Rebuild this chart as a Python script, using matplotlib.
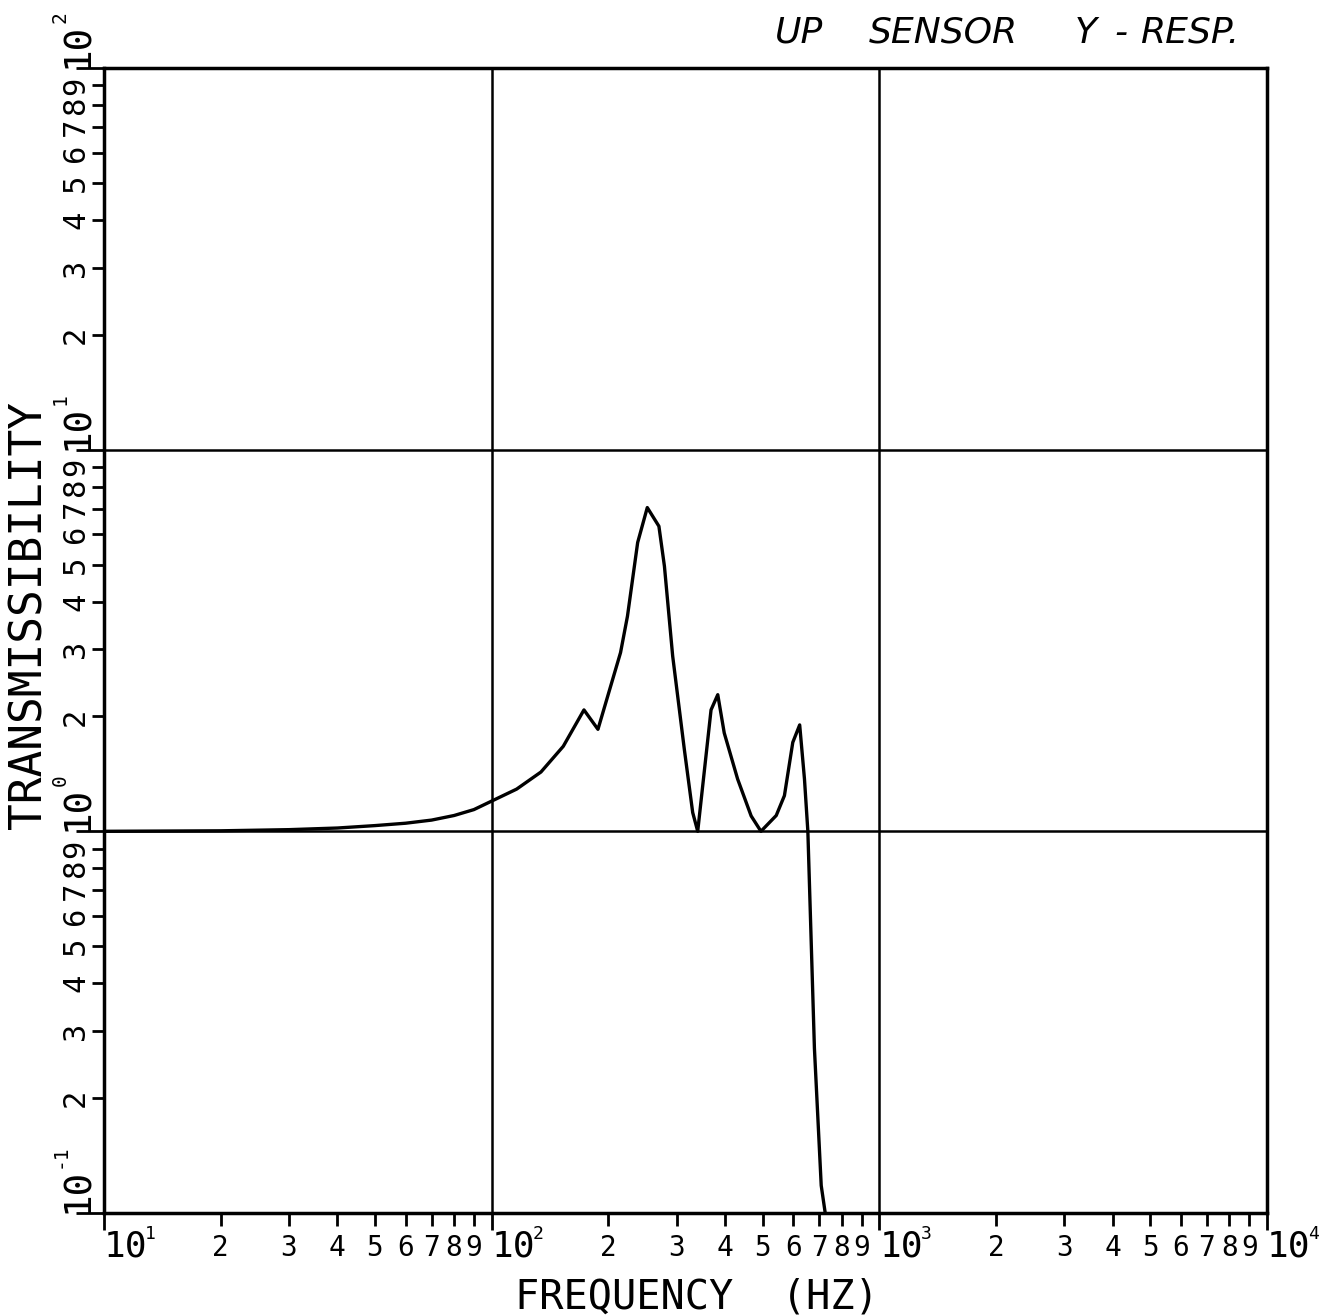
import numpy as np
import matplotlib
matplotlib.use("Agg")
import matplotlib.pyplot as plt
from matplotlib.ticker import FixedLocator, FixedFormatter
from matplotlib.transforms import offset_copy

plt.rcParams['font.family'] = 'DejaVu Sans Mono'

# data
freq = [10, 20, 30, 40, 50, 60, 70, 80, 90, 100, 116, 134, 153, 173, 188,
        215, 224, 238, 252, 270, 279, 293, 314, 330, 340, 368, 383, 398,
        431, 467, 495, 542, 569, 598, 623, 641, 654, 680, 708, 725]
trans = [1.0, 1.003, 1.01, 1.02, 1.035, 1.05, 1.07, 1.10, 1.14, 1.20, 1.29,
         1.43, 1.67, 2.08, 1.85, 2.94, 3.66, 5.71, 7.05, 6.30, 4.95, 2.88,
         1.64, 1.12, 1.0, 2.08, 2.28, 1.81, 1.37, 1.097, 1.0, 1.10, 1.24,
         1.71, 1.90, 1.37, 1.0, 0.27, 0.118, 0.1]

x_major = [10, 100, 1000, 10000]
x_exp = ['1', '2', '3', '4']
y_major = [0.1, 1, 10, 100]
y_exp = ['-1', '0', '1', '2']
digits = [2, 3, 4, 5, 6, 7, 8, 9]

fig = plt.figure(figsize=(13.23, 13.15), dpi=100)
ax = fig.add_axes([0.0786, 0.0776, 0.8791, 0.8707])

ax.plot(freq, trans, color='black', lw=2.4)
ax.set_xscale('log')
ax.set_yscale('log')
ax.set_xlim(10, 10000)
ax.set_ylim(0.1, 100)

x_minor = [d * 10 ** e for e in range(1, 4) for d in digits]
y_minor = [d * 10 ** e for e in range(-1, 2) for d in digits]
x_minor_lbl = [str(d) for e in range(1, 4) for d in digits]
y_minor_lbl = [str(d) for e in range(-1, 2) for d in digits]

ax.xaxis.set_major_locator(FixedLocator(x_major))
ax.xaxis.set_major_formatter(FixedFormatter(['10'] * len(x_major)))
ax.xaxis.set_minor_locator(FixedLocator(x_minor))
ax.xaxis.set_minor_formatter(FixedFormatter(x_minor_lbl))
ax.yaxis.set_major_locator(FixedLocator(y_major))
ax.yaxis.set_major_formatter(FixedFormatter(['10'] * len(y_major)))
ax.yaxis.set_minor_locator(FixedLocator(y_minor))
ax.yaxis.set_minor_formatter(FixedFormatter(y_minor_lbl))

ax.tick_params(axis='x', which='major', direction='out', length=12, width=2,
               pad=0, labelsize=26)
ax.tick_params(axis='x', which='minor', direction='out', length=9, width=2,
               pad=6, labelsize=20)
ax.tick_params(axis='y', which='major', direction='out', length=20, width=2,
               pad=-14, labelsize=27)
ax.tick_params(axis='y', which='minor', direction='out', length=9, width=2,
               pad=1, labelsize=22)

for lab in ax.get_xticklabels(which='major'):
    lab.set_ha('left')
for lab in ax.get_yticklabels(which='major'):
    lab.set_rotation(90)
    lab.set_va('bottom')
    lab.set_ha('right')
for lab in ax.get_yticklabels(which='minor'):
    lab.set_rotation(90)
    lab.set_va('center')
    lab.set_ha('right')

# small exponents next to the "10" labels
xsup = offset_copy(ax.get_xaxis_transform(), fig=fig, x=41, y=-12, units='dots')
for xv, ex in zip(x_major, x_exp):
    ax.text(xv, 0, ex, transform=xsup, fontsize=13, ha='left', va='top',
            clip_on=False)
ysup = offset_copy(ax.get_yaxis_transform(), fig=fig, x=-34, y=45, units='dots')
for yv, ex in zip(y_major, y_exp):
    ax.text(0, yv, ex, transform=ysup, fontsize=14, rotation=90,
            ha='right', va='bottom', clip_on=False)

ax.grid(True, which='major', color='black', lw=1.8)
for s in ax.spines.values():
    s.set_linewidth(2.5)

fig.text(0.527, 0.005, 'FREQUENCY  (HZ)', fontsize=29, ha='center', va='baseline')
fig.text(0.022, 0.532, 'TRANSMISSIBILITY', fontsize=32, rotation=90,
         ha='center', va='center')
title_words = ['UP', 'SENSOR', 'Y', '-', 'RESP.']
title_x = [0.586, 0.657, 0.812, 0.842, 0.862]
for word, xpos in zip(title_words, title_x):
    fig.text(xpos, 0.975, word, fontsize=26, family='DejaVu Sans',
             style='italic', ha='left', va='center')

fig.savefig('out.png', dpi=100, facecolor='white')
